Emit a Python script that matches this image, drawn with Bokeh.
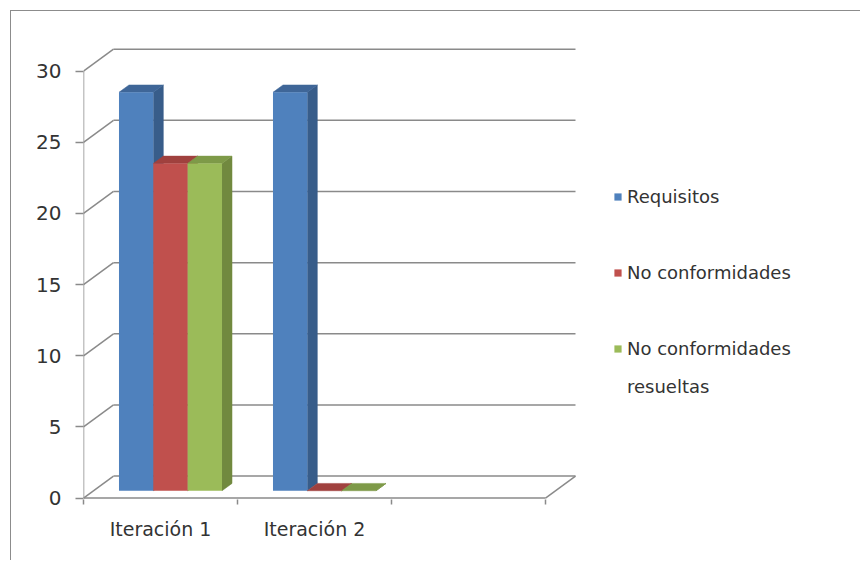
import numpy as np
from bokeh.plotting import figure
from bokeh.models import FixedTicker, Range1d, Legend, LegendItem
from bokeh.embed import file_html
from bokeh.resources import INLINE

# ---- data ----
categories = ["Iteración 1", "Iteración 2", ""]
series_names = ["Requisitos", "No conformidades", "No conformidades resueltas"]
requisitos = [28, 28]
no_conformidades = [23, 0]
no_conformidades_resueltas = [23, 0]
y_ticks = [0, 5, 10, 15, 20, 25, 30]

series = [requisitos, no_conformidades, no_conformidades_resueltas]
front_colors = ["#4F81BD", "#C0504D", "#9BBB59"]
side_colors = ["#385D8A", "#8C3A38", "#71893F"]
top_colors = ["#3F6698", "#A0413E", "#7E9A48"]

GRID = "#8a8a8a"
TEXT = "#333333"
FONT = "DejaVu Sans"

# 3D geometry (in data units)
PX_PER_CAT = 154.0
PX_PER_VAL = 14.23
DX = 30.0 / PX_PER_CAT      # depth shift along x
DY = 22.0 / PX_PER_VAL      # depth shift along y
D1, D2 = 1.0 / 3.0, 2.0 / 3.0
W = 0.223                   # bar width (category units)
NCAT = len(categories)

B_LEFT, B_RIGHT, B_TOP, B_BOTTOM = 72, 6, 33, 62
WIDTH, HEIGHT = 850, 550
frame_w = WIDTH - B_LEFT - B_RIGHT
frame_h = HEIGHT - B_TOP - B_BOTTOM
y0 = -0.1
p = figure(width=WIDTH, height=HEIGHT, output_backend="svg", toolbar_location=None,
           x_range=Range1d(0, frame_w / PX_PER_CAT),
           y_range=Range1d(y0, y0 + frame_h / PX_PER_VAL),
           min_border_left=B_LEFT, min_border_right=B_RIGHT,
           min_border_top=B_TOP, min_border_bottom=B_BOTTOM)
p.styles = {"margin-left": "10px", "margin-top": "10px",
            "border-left": "1px solid #8c8c8c", "border-top": "1px solid #8c8c8c"}
p.outline_line_color = None
p.grid.visible = False
p.background_fill_color = "white"
p.border_fill_color = "white"

# ---- walls / gridlines ----
for v in y_ticks:
    p.line([0, DX], [v, v + DY], line_color=GRID, line_width=1.5)
    p.line([DX, NCAT + DX], [v + DY, v + DY], line_color=GRID, line_width=1.5)
p.line([0, 0], [0, y_ticks[-1]], line_color=GRID, line_width=1.5)
p.line([0, NCAT], [0, 0], line_color=GRID, line_width=1.5)
p.line([NCAT, NCAT + DX], [0, DY], line_color=GRID, line_width=1.5)

# ---- bars ----
legend_renderers = [None, None, None]
for c in range(len(requisitos)):
    for i, vals in enumerate(series):
        v = vals[c]
        x0 = c + 0.5 - 1.5 * W + i * W
        x1 = x0 + W
        p.patch([x1 + D1 * DX, x1 + D2 * DX, x1 + D2 * DX, x1 + D1 * DX],
                [D1 * DY, D2 * DY, v + D2 * DY, v + D1 * DY],
                fill_color=side_colors[i], line_color=side_colors[i], line_width=0.5)
        p.patch([x0 + D1 * DX, x1 + D1 * DX, x1 + D2 * DX, x0 + D2 * DX],
                [v + D1 * DY, v + D1 * DY, v + D2 * DY, v + D2 * DY],
                fill_color=top_colors[i], line_color=top_colors[i], line_width=0.5)
        if v > 0:
            r = p.quad(left=[x0 + D1 * DX], right=[x1 + D1 * DX],
                       bottom=[D1 * DY], top=[v + D1 * DY],
                       fill_color=front_colors[i], line_color=None)
            if legend_renderers[i] is None:
                legend_renderers[i] = r

# ---- axes ----
p.yaxis.ticker = FixedTicker(ticks=y_ticks)
p.yaxis.axis_line_color = None
p.yaxis.major_tick_line_color = GRID
p.yaxis.major_tick_line_width = 1.5
p.yaxis.major_tick_in = 0
p.yaxis.major_tick_out = 8
p.yaxis.minor_tick_line_color = None
p.yaxis.major_label_standoff = 14
p.yaxis.major_label_text_font = FONT
p.yaxis.major_label_text_font_size = "20px"
p.yaxis.major_label_text_color = TEXT

label_pos = [k + 0.5 for k in range(NCAT) if categories[k]]
p.xaxis.ticker = FixedTicker(ticks=label_pos, minor_ticks=list(range(NCAT + 1)))
p.xaxis.major_label_overrides = {k + 0.5: categories[k] for k in range(NCAT) if categories[k]}
p.xaxis.axis_line_color = None
p.xaxis.major_tick_line_color = None
p.xaxis.major_tick_out = 0
p.xaxis.major_tick_in = 0
p.xaxis.minor_tick_line_color = GRID
p.xaxis.minor_tick_line_width = 1.5
p.xaxis.minor_tick_in = 0
p.xaxis.minor_tick_out = 5
p.xaxis.major_label_standoff = 13
p.xaxis.major_label_text_font = FONT
p.xaxis.major_label_text_font_size = "19px"
p.xaxis.major_label_text_color = TEXT

# ---- legend (inside the wide frame, right of the plot box) ----
ghost = p.quad(left=[0], right=[0], bottom=[0], top=[0], fill_alpha=0, line_alpha=0)
wrapped_last = series_names[2].rsplit(" ", 1)
items = [
    LegendItem(label=series_names[0], renderers=[legend_renderers[0]]),
    LegendItem(label=" ", renderers=[ghost]),
    LegendItem(label=series_names[1], renderers=[legend_renderers[1]]),
    LegendItem(label=" ", renderers=[ghost]),
    LegendItem(label=wrapped_last[0], renderers=[legend_renderers[2]]),
    LegendItem(label=wrapped_last[1], renderers=[ghost]),
]
leg = Legend(items=items, location=(530, 102))
leg.border_line_color = None
leg.background_fill_alpha = 0
leg.padding = 0
leg.margin = 0
leg.spacing = 17
leg.glyph_width = 9
leg.glyph_height = 9
leg.label_standoff = 5
leg.label_height = 21
leg.label_text_font = FONT
leg.label_text_font_size = "18px"
leg.label_text_color = TEXT
p.add_layout(leg, "center")

open("out.html", "w").write(file_html(p, INLINE))
